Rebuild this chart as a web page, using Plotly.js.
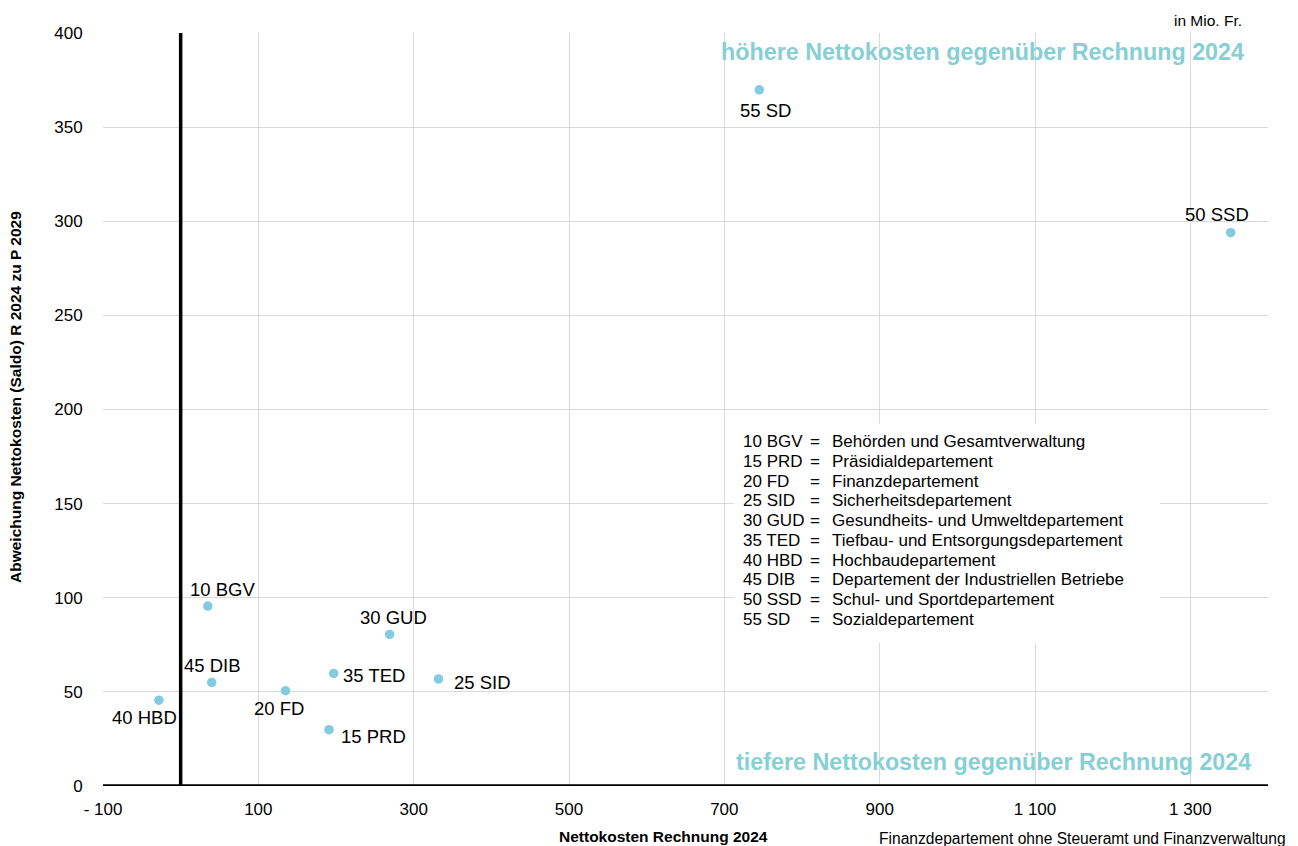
<!DOCTYPE html>
<html>
<head>
<meta charset="utf-8">
<script src="https://cdn.plot.ly/plotly-3.0.1.min.js"></script>
<style>html,body{margin:0;padding:0;background:#fff;}#chart{width:1298px;height:846px;}</style>
</head>
<body>
<div id="chart"></div>
<script>
// ---- data ----
const codes = ['10 BGV','15 PRD','20 FD','25 SID','30 GUD','35 TED','40 HBD','45 DIB','50 SSD','55 SD'];
const netCost2024 = [35, 191, 135, 332, 269, 197, -28, 40, 1352, 745];
const deviation = [95.6, 29.9, 50.6, 56.9, 80.5, 59.8, 45.6, 55.0, 293.9, 369.8];
const descriptions = [
  'Behörden und Gesamtverwaltung',
  'Präsidialdepartement',
  'Finanzdepartement',
  'Sicherheitsdepartement',
  'Gesundheits- und Umweltdepartement',
  'Tiefbau- und Entsorgungsdepartement',
  'Hochbaudepartement',
  'Departement der Industriellen Betriebe',
  'Schul- und Sportdepartement',
  'Sozialdepartement'
];
const xTickVals = [-100, 100, 300, 500, 700, 900, 1100, 1300];
const xTickText = ['- 100', '100', '300', '500', '700', '900', '1 100', '1 300'];
const yTickVals = [0, 50, 100, 150, 200, 250, 300, 350, 400];

// ---- styling / layout helpers ----
const labelShift = [[15,17],[44,-7],[-7,-18],[44,-4],[4,17],[40,-2],[-14,-17],[1,17],[-14,18],[6,-21]];
const W = 1298, H = 846;
const M = {l:103, r:30, t:33, b:60};
const PW = W - M.l - M.r, PH = H - M.t - M.b;
const px = v => (v - M.l) / PW;
const py = v => (H - M.b - v) / PH;
const FONT = 'Liberation Sans, Arial, sans-serif';
const TEAL = '#86cfd5';

const annotations = [];
codes.forEach((c, i) => {
  annotations.push({
    x: netCost2024[i], y: deviation[i], xref: 'x', yref: 'y', text: c, showarrow: false,
    xshift: labelShift[i][0], yshift: labelShift[i][1],
    font: {family: FONT, size: 18.5, color: '#000'}
  });
});
// legend block
codes.forEach((c, i) => {
  const yy = py(441.7 + i * 19.75);
  annotations.push({xref:'paper', yref:'paper', x: px(741), y: yy, xanchor:'left', yanchor:'middle',
    text: c, showarrow:false, font:{family:FONT, size:17, color:'#000'}});
  annotations.push({xref:'paper', yref:'paper', x: px(815), y: yy, xanchor:'center', yanchor:'middle',
    text: '=', showarrow:false, font:{family:FONT, size:17, color:'#000'}});
  annotations.push({xref:'paper', yref:'paper', x: px(829.5), y: yy, xanchor:'left', yanchor:'middle',
    text: descriptions[i], showarrow:false, font:{family:FONT, size:17, color:'#000'}});
});
annotations.push(
  {xref:'paper', yref:'paper', x: px(1246), y: py(52), xanchor:'right', yanchor:'middle',
   text:'<b>höhere Nettokosten gegenüber Rechnung 2024</b>', showarrow:false, font:{family:FONT, size:23.3, color:TEAL}},
  {xref:'paper', yref:'paper', x: px(1253), y: py(762), xanchor:'right', yanchor:'middle',
   text:'<b>tiefere Nettokosten gegenüber Rechnung 2024</b>', showarrow:false, font:{family:FONT, size:23.3, color:TEAL}},
  {xref:'paper', yref:'paper', x: px(1244), y: py(20), xanchor:'right', yanchor:'middle',
   text:'in Mio. Fr.', showarrow:false, font:{family:FONT, size:15.5, color:'#000'}},
  {xref:'paper', yref:'paper', x: px(1288), y: py(838), xanchor:'right', yanchor:'middle',
   text:'Finanzdepartement ohne Steueramt und Finanzverwaltung', showarrow:false, font:{family:FONT, size:15.6, color:'#000'}},
  {xref:'paper', yref:'paper', x: px(663), y: py(836), xanchor:'center', yanchor:'middle',
   text:'<b>Nettokosten Rechnung 2024</b>', showarrow:false, font:{family:FONT, size:15.5, color:'#000'}},
  {xref:'paper', yref:'paper', x: px(15), y: py(397), xanchor:'center', yanchor:'middle', textangle:-90,
   text:'<b>Abweichung Nettokosten (Saldo) R 2024 zu P 2029</b>', showarrow:false, font:{family:FONT, size:15.5, color:'#000'}}
);

const shapes = [
  {type:'rect', xref:'paper', yref:'paper', x0:px(734), x1:px(1160), y0:py(424), y1:py(643),
   fillcolor:'#ffffff', line:{width:0}, layer:'above'},
  {type:'line', xref:'paper', yref:'y', x0:0, x1:1, y0:0, y1:0, line:{color:'#000', width:3.5}},
  {type:'line', xref:'x', yref:'paper', x0:0, x1:0, y0:0, y1:1, line:{color:'#000', width:3.5}}
];

const trace = {
  type:'scatter', mode:'markers', x: netCost2024, y: deviation, text: codes,
  marker:{color:'#82cbe0', size:9.5}, hoverinfo:'text+x+y', cliponaxis:false
};

const layout = {
  width: W, height: H, margin: M, showlegend:false,
  paper_bgcolor:'#fff', plot_bgcolor:'#fff',
  font:{family:FONT, color:'#000'},
  xaxis:{range:[-100,1400], tickvals:xTickVals, ticktext:xTickText, showgrid:true, gridcolor:'#d9d9d9', gridwidth:1,
    zeroline:false, showline:false, ticks:'outside', ticklen:8, tickcolor:'rgba(0,0,0,0)',
    tickfont:{family:FONT, size:17, color:'#000'}},
  yaxis:{range:[0,400], tickvals:yTickVals, showgrid:true, gridcolor:'#d9d9d9', gridwidth:1,
    zeroline:false, showline:false, ticks:'outside', ticklen:16, tickcolor:'rgba(0,0,0,0)',
    tickfont:{family:FONT, size:17, color:'#000'}},
  annotations: annotations,
  shapes: shapes
};

Plotly.newPlot('chart', [trace], layout, {displayModeBar:false, staticPlot:true});
</script>
</body>
</html>
